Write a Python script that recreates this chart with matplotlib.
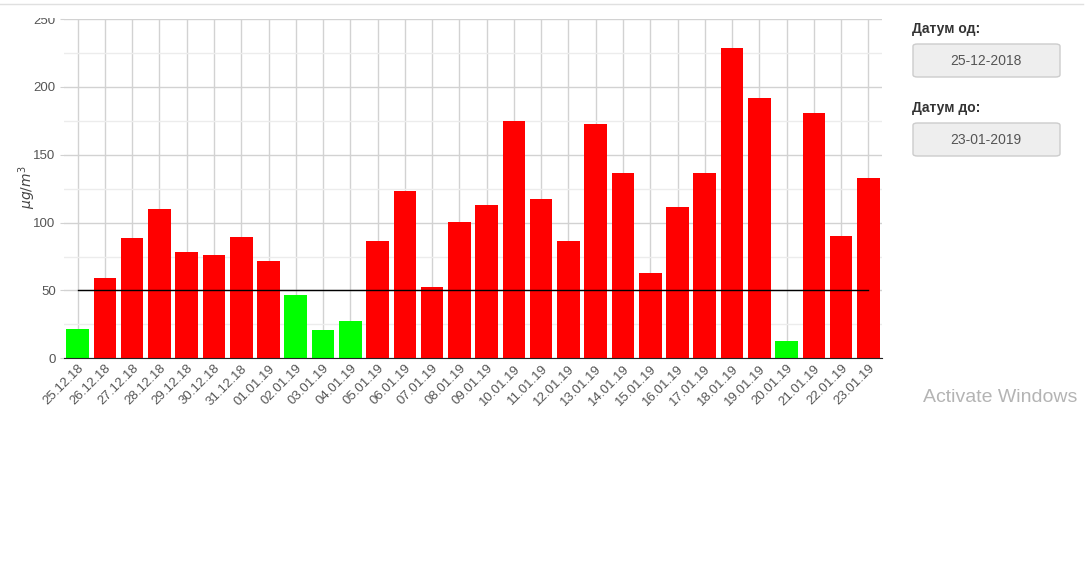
import matplotlib
matplotlib.use("Agg")
import matplotlib.pyplot as plt
from matplotlib.patches import Rectangle, FancyBboxPatch
from matplotlib.lines import Line2D

plt.rcParams['font.family'] = ['Liberation Sans', 'DejaVu Sans']

dates = ['25.12.18', '26.12.18', '27.12.18', '28.12.18', '29.12.18', '30.12.18',
         '31.12.18', '01.01.19', '02.01.19', '03.01.19', '04.01.19', '05.01.19',
         '06.01.19', '07.01.19', '08.01.19', '09.01.19', '10.01.19', '11.01.19',
         '12.01.19', '13.01.19', '14.01.19', '15.01.19', '16.01.19', '17.01.19',
         '18.01.19', '19.01.19', '20.01.19', '21.01.19', '22.01.19', '23.01.19']
values = [21.4, 59.2, 88.8, 110.2, 78.4, 76.2, 89.5, 71.7, 46.6, 20.7, 27.4, 86.5,
          123.5, 52.5, 100.6, 112.9, 175, 117.6, 86.5, 173, 136.8, 62.9, 111.7, 136.8,
          228.5, 191.6, 12.6, 180.5, 90.2, 133.1]
limit = 50
date_from = '25-12-2018'
date_to = '23-01-2019'

W, H = 1092, 562
fig = plt.figure(figsize=(W / 100, H / 100), dpi=100)
fig.patch.set_facecolor('white')

x0, x1, y0, y1 = 64, 882, 358.3, 19
ax = fig.add_axes([x0 / W, 1 - y0 / H, (x1 - x0) / W, (y0 - y1) / H])

xs = list(range(len(dates)))
colors = ['#00ff00' if v < limit else '#ff0000' for v in values]
ax.bar(xs, values, width=0.83, color=colors, zorder=2)
ax.plot([xs[0], xs[-1]], [limit, limit], color='black', lw=1, zorder=3)

ax.set_xlim(-0.5, len(dates) - 0.5)
ax.set_ylim(0, 250)
ax.set_yticks(range(0, 251, 50))
ax.set_yticks(range(25, 250, 50), minor=True)
ax.set_xticks(xs)
ax.set_xticklabels(dates, rotation=45, ha='right', rotation_mode='anchor')

ax.grid(True, which='major', color='#d2d2d2', lw=1, zorder=0)
ax.grid(True, which='minor', axis='y', color='#ececec', lw=1, zorder=0)
ax.set_axisbelow(True)
for s in ['top', 'right', 'left']:
    ax.spines[s].set_visible(False)
ax.spines['bottom'].set_color('#222222')
ax.tick_params(axis='y', which='major', length=3, color='#d2d2d2', labelsize=9.5,
               labelcolor='#555555', pad=3)
ax.tick_params(axis='y', which='minor', length=0)
ax.tick_params(axis='x', length=0, labelsize=9.5, labelcolor='#555555', pad=3)

fig.text(27 / W, 1 - 187 / H, r'$\mu g/m^3$', fontsize=10, color='#444444',
         rotation=90, va='center', ha='center')

# top of the chart is cut by the page
fig.add_artist(Rectangle((0, 1 - 18 / H), 1, 18 / H, transform=fig.transFigure,
                         facecolor='white', edgecolor='none', zorder=10))
fig.add_artist(Line2D([0, 1083 / W], [1 - 3.5 / H, 1 - 3.5 / H], transform=fig.transFigure,
                      color='#e0e0e0', lw=1, zorder=11))

# side panel with the date fields
for label, value, ty, by in [('Датум од:', date_from, 29, 44), ('Датум до:', date_to, 108, 123)]:
    fig.text(912 / W, 1 - ty / H, label, fontsize=10, fontweight='bold', color='#333333',
             va='center', ha='left')
    fig.add_artist(FancyBboxPatch((913 / W, 1 - (by + 33) / H), 147 / W, 33 / H,
                                  boxstyle='round,pad=0,rounding_size=0.004',
                                  transform=fig.transFigure, facecolor='#eeeeee',
                                  edgecolor='#cccccc', lw=1))
    fig.text(986 / W, 1 - (by + 17) / H, value, fontsize=10, color='#555555',
             va='center', ha='center')

fig.text(1000 / W, 1 - 397 / H, 'Activate Windows', fontsize=14, color='#b4b4b4',
         va='center', ha='center')

fig.savefig('out.png', dpi=100)
